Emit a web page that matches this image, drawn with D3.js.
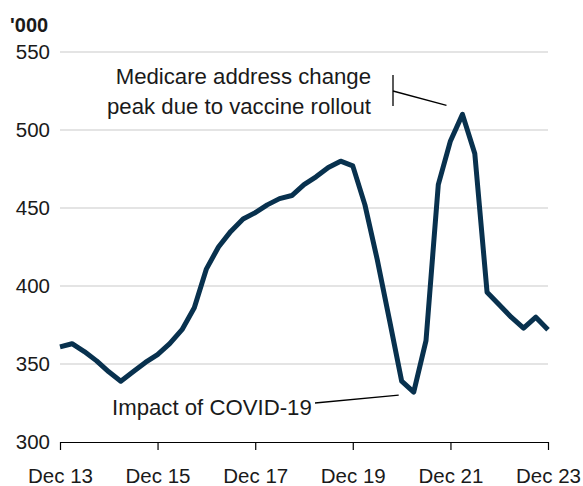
<!DOCTYPE html>
<html>
<head>
<meta charset="utf-8">
<script src="https://cdn.jsdelivr.net/npm/d3@7"></script>
<style>
  body { margin: 0; background: #fff; }
  svg text { font-family: "Liberation Sans", Arial, sans-serif; fill: #1a1a1a; }
</style>
</head>
<body>
<div class="chart"></div>
<script>
// quarterly, Dec 2013 .. Dec 2023 ('000)
var startYear = 2013;
var values = [361, 363, 358, 352, 345, 339, 345, 351, 356, 363,
              372, 386, 411, 425, 435, 443, 447, 452, 456, 458,
              465, 470, 476, 480, 477, 452, 417, 378, 339, 332,
              365, 465, 493, 510, 485, 396, 388, 380, 373, 380,
              372];
var yTicks = [300, 350, 400, 450, 500, 550];
var xTickLabels = ["Dec 13", "Dec 15", "Dec 17", "Dec 19", "Dec 21", "Dec 23"];
var unitLabel = "'000";
var peakNote = ["Medicare address change", "peak due to vaccine rollout"];
var dipNote = "Impact of COVID-19";

var W = 583, H = 486;
var margin = {top: 52, right: 35, bottom: 44, left: 60};

var svg = d3.select("div.chart").append("svg")
    .attr("width", W)
    .attr("height", H);

var data = values.map(function(v, i) {
  return {date: new Date(startYear, 11 + 3 * i, 1), value: v};
});

var x = d3.scaleTime()
    .domain([data[0].date, data[data.length - 1].date])
    .range([margin.left, W - margin.right]);

var y = d3.scaleLinear()
    .domain([300, 550])
    .range([H - margin.bottom, margin.top]);

// gridlines
svg.append("g")
  .selectAll("line")
  .data(yTicks.slice(1))
  .enter().append("line")
    .attr("x1", x.range()[0])
    .attr("x2", x.range()[1])
    .attr("y1", function(d) { return y(d); })
    .attr("y2", function(d) { return y(d); })
    .attr("stroke", "#e4e4e4")
    .attr("stroke-width", 2);

// y labels
svg.append("g")
  .selectAll("text")
  .data(yTicks)
  .enter().append("text")
    .attr("x", 50)
    .attr("y", function(d) { return y(d); })
    .attr("dy", "0.36em")
    .attr("text-anchor", "end")
    .attr("font-size", 20.5)
    .text(function(d) { return d; });

svg.append("text")
    .attr("x", 10)
    .attr("y", 32)
    .attr("font-size", 20)
    .attr("font-weight", "bold")
    .attr("fill", "#000")
    .text(unitLabel);

// x axis
var tickDates = xTickLabels.map(function(d, i) { return new Date(startYear + 2 * i, 11, 1); });
var xAxis = d3.axisBottom(x)
    .tickValues(tickDates)
    .tickSize(8)
    .tickSizeOuter(0)
    .tickFormat(function(d, i) { return xTickLabels[i]; });

var gx = svg.append("g")
    .attr("transform", "translate(0," + y(300) + ")")
    .call(xAxis);
gx.select(".domain").attr("stroke", "#000").attr("stroke-width", 1.2);
gx.selectAll(".tick line").attr("stroke", "#000").attr("stroke-width", 1.2);
gx.selectAll(".tick text")
    .attr("font-size", 20.5)
    .attr("font-family", "Liberation Sans, Arial, sans-serif")
    .attr("fill", "#1a1a1a")
    .attr("y", 26);

// the line
var line = d3.line()
    .x(function(d) { return x(d.date); })
    .y(function(d) { return y(d.value); });

svg.append("path")
    .datum(data)
    .attr("fill", "none")
    .attr("stroke", "#08314e")
    .attr("stroke-width", 5)
    .attr("stroke-linejoin", "round")
    .attr("d", line);

// annotation: vaccine peak
var ann = svg.append("g");
ann.selectAll("text")
  .data(peakNote)
  .enter().append("text")
    .attr("x", 371)
    .attr("y", function(d, i) { return 84 + i * 30; })
    .attr("text-anchor", "end")
    .attr("font-size", 22.2)
    .text(function(d) { return d; });

var peak = data[33];
ann.append("line")
    .attr("x1", 393).attr("x2", 393)
    .attr("y1", 75).attr("y2", 106)
    .attr("stroke", "#000").attr("stroke-width", 1.3);
ann.append("line")
    .attr("x1", 393).attr("y1", 91)
    .attr("x2", x(peak.date) - 16).attr("y2", y(peak.value) - 9)
    .attr("stroke", "#000").attr("stroke-width", 1.3);

// annotation: covid dip
var dip = data[29];
svg.append("text")
    .attr("x", 112)
    .attr("y", 415)
    .attr("font-size", 22.2)
    .text(dipNote);
svg.append("line")
    .attr("x1", 315).attr("y1", 403)
    .attr("x2", x(dip.date) - 15).attr("y2", y(dip.value) + 3)
    .attr("stroke", "#000").attr("stroke-width", 1.3);
</script>
</body>
</html>
